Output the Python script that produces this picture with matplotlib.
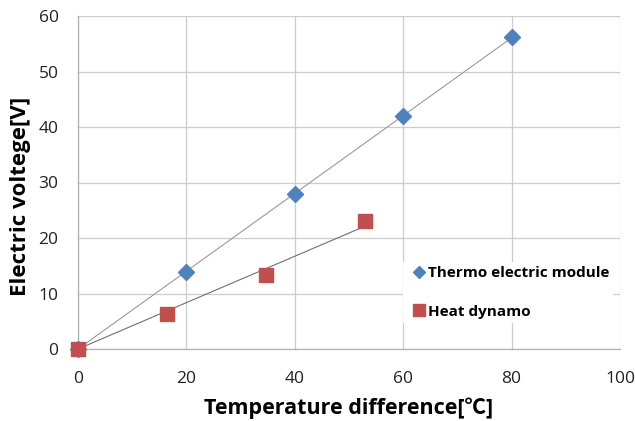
import numpy as np
import matplotlib
matplotlib.use("Agg")
import matplotlib.pyplot as plt
from matplotlib.lines import Line2D

plt.rcParams['font.family'] = ['Open Sans', 'Noto Sans CJK KR', 'DejaVu Sans']

# data
thermo_x = [0, 20, 40, 60, 80]
thermo_y = [0, 13.9, 27.9, 42.0, 56.2]
heat_x = [0, 16.4, 34.7, 53.0]
heat_y = [0, 6.3, 13.3, 23.1]
series_names = ["Thermo electric module", "Heat dynamo"]
x_ticks = [0, 20, 40, 60, 80, 100]
y_ticks = [0, 10, 20, 30, 40, 50, 60]
x_label = "Temperature difference[℃]"
y_label = "Electric voltege[V]"

fig = plt.figure(figsize=(6.35, 4.21), dpi=100)
ax = fig.add_axes([78/635, 1-349/421, (620-78)/635, (349-16)/421])

def fit0(x, y):
    x = np.asarray(x, float); y = np.asarray(y, float)
    return (x*y).sum() / (x*x).sum()

# trendlines through origin
for xs, ys, c in [(thermo_x, thermo_y, '#9a9a9a'), (heat_x, heat_y, '#707070')]:
    k = fit0(xs, ys)
    xx = np.array([0, max(xs)])
    ax.plot(xx, k*xx, color=c, lw=0.8, zorder=2)

ax.plot(thermo_x, thermo_y, linestyle='none', marker='D', ms=8.5, color='#4F81BD',
        mec='#4F81BD', zorder=4, clip_on=False)
ax.plot(heat_x, heat_y, linestyle='none', marker='s', ms=10.5, color='#C0504D',
        mec='#C0504D', zorder=5, clip_on=False)

ax.set_xlim(0, 100)
ax.set_ylim(0, 60)
ax.set_xticks(x_ticks)
ax.set_yticks(y_ticks)
ax.grid(True, color='#cccccc', lw=0.9)
ax.set_axisbelow(True)
for s in ['top', 'right']:
    ax.spines[s].set_visible(False)
for s in ['left', 'bottom']:
    ax.spines[s].set_color('#b0b0b0')
    ax.spines[s].set_linewidth(0.9)
ax.tick_params(axis='both', length=0, labelsize=12.5, colors='#222222')
ax.tick_params(axis='y', pad=14)
ax.tick_params(axis='x', pad=16)

ax.set_xlabel(x_label, fontsize=15.5, fontweight='bold')
ax.xaxis.set_label_coords(0.5, -(419-349)/333)
ax.xaxis.label.set_va('bottom')
ax.set_ylabel(y_label, fontsize=16, fontweight='bold')
ax.yaxis.set_label_coords(-(78-31)/542, (349-196)/333)

handles = [Line2D([], [], linestyle='none', marker='D', ms=6.5, color='#4F81BD'),
           Line2D([], [], linestyle='none', marker='s', ms=8.5, color='#C0504D')]
leg = ax.legend(handles, series_names, loc='center left',
                bbox_to_anchor=((403-78)/542, (349-332)/333, (613-403)/542, (332-253)/333),
                mode='expand', frameon=True, framealpha=1, edgecolor='white',
                fancybox=False, prop={'weight': 'bold', 'size': 11},
                handletextpad=-0.15, borderaxespad=0, labelspacing=1.6, handlelength=1.5,
                borderpad=0.3)
leg.get_frame().set_linewidth(0)

fig.savefig('out.png', dpi=100)
